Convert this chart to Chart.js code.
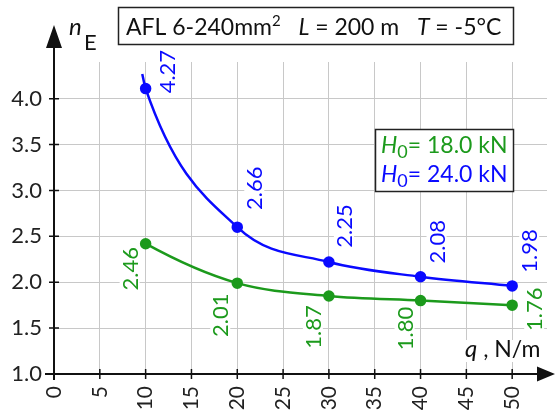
<!DOCTYPE html>
<html>
<head>
<meta charset="utf-8">
<script src="https://cdn.jsdelivr.net/npm/chart.js@4.4.1/dist/chart.umd.min.js"></script>
<style>
  html, body { margin: 0; padding: 0; background: #fff; }
</style>
</head>
<body>
<canvas id="chart" width="556" height="414"></canvas>
<script>
// values
const q = [10, 20, 30, 40, 50];
const nBlue = [4.11, 2.60, 2.22, 2.06, 1.96];
const nGreen = [2.42, 1.99, 1.85, 1.80, 1.75];
const blueLabels = ['4.27', '2.66', '2.25', '2.08', '1.98'];
const greenLabels = ['2.46', '2.01', '1.87', '1.80', '1.76'];
// the curves start a bit left of the first point
const qStartBlue = 9.63;
const qStartGreen = 9.7;
const blueStart = 4.27;
const greenStart = 2.44;
const xTicks = [0, 5, 10, 15, 20, 25, 30, 35, 40, 45, 50];
const yTicks = [1.0, 1.5, 2.0, 2.5, 3.0, 3.5, 4.0];

const FONT = 'Lato';
const BLUE = '#0a0aff';
const GREEN = '#1c9a1c';

// label placement next to each point (dx, dy of the rotated text centre)
const bluePos = [[21, -17], [17, -39], [15, -36], [16, -35], [17, -35]];
const greenPos = [[-16, 25], [-17, 32], [-16, 31], [-16, 28], [22, 4]];

function runs(ctx, x, y, parts) {
  parts.forEach(p => {
    ctx.font = (p.italic ? 'italic ' : '') + (p.size || 23) + 'px ' + FONT;
    ctx.fillStyle = p.color || '#111';
    ctx.fillText(p.t, x, y + (p.dy || 0));
    x += ctx.measureText(p.t).width;
  });
  return x;
}

const decor = {
  id: 'decor',
  afterDraw(chart) {
    const ctx = chart.ctx;
    const xs = chart.scales.x, ys = chart.scales.y;
    const x0 = xs.getPixelForValue(0), y0 = ys.getPixelForValue(1);
    ctx.save();

    // point labels
    [[1, blueLabels, bluePos, BLUE], [0, greenLabels, greenPos, GREEN]].forEach(([di, labels, pos, col]) => {
      const meta = chart.getDatasetMeta(di);
      labels.forEach((t, j) => {
        const el = meta.data[j + 1];
        ctx.save();
        ctx.translate(el.x + pos[j][0], el.y + pos[j][1]);
        ctx.rotate(-Math.PI / 2);
        ctx.font = '22px ' + FONT;
        const w = ctx.measureText(t).width;
        ctx.fillStyle = '#fff';
        ctx.fillRect(-w / 2 - 2, -10, w + 4, 20);
        ctx.fillStyle = col;
        ctx.textAlign = 'center';
        ctx.textBaseline = 'middle';
        ctx.fillText(t, 0, 1);
        ctx.restore();
      });
    });

    // axes with arrows
    ctx.strokeStyle = '#111';
    ctx.fillStyle = '#111';
    ctx.lineWidth = 2;
    ctx.beginPath();
    ctx.moveTo(x0 - 9, y0); ctx.lineTo(540, y0);
    ctx.moveTo(x0, y0 + 6); ctx.lineTo(x0, 44);
    ctx.stroke();
    ctx.beginPath();
    ctx.moveTo(555, y0); ctx.lineTo(537, y0 - 7.5); ctx.lineTo(537, y0 + 7.5); ctx.closePath();
    ctx.moveTo(x0, 25); ctx.lineTo(x0 - 8, 48); ctx.lineTo(x0 + 8, 48); ctx.closePath();
    ctx.fill();
    ctx.lineWidth = 1.5;
    ctx.beginPath();
    xTicks.forEach(v => {
      const px = xs.getPixelForValue(v);
      ctx.moveTo(px, y0 - 5); ctx.lineTo(px, y0 + 5);
    });
    yTicks.forEach(v => {
      const py = ys.getPixelForValue(v);
      ctx.moveTo(x0 - 5, py); ctx.lineTo(x0 + 5, py);
    });
    ctx.stroke();

    // axis titles
    ctx.textAlign = 'left';
    ctx.textBaseline = 'alphabetic';
    runs(ctx, 69, 35, [{ t: 'n', italic: true, size: 24 }]);
    runs(ctx, 84, 50, [{ t: 'E', size: 22 }]);
    ctx.fillStyle = '#fff';
    ctx.fillRect(462, 340, 88, 22);
    runs(ctx, 465, 357, [{ t: 'q', italic: true, size: 24 }, { t: ' , N/m' }]);

    // title box
    ctx.fillStyle = '#fff';
    ctx.fillRect(118.5, 7.5, 395, 37);
    ctx.strokeStyle = '#222';
    ctx.lineWidth = 1.5;
    ctx.strokeRect(118.5, 7.5, 395, 37);
    runs(ctx, 126, 35, [
      { t: 'AFL 6-240mm' },
      { t: '2', size: 15, dy: -9 },
      { t: '   ' },
      { t: 'L', italic: true },
      { t: ' = 200 m   ' },
      { t: 'T', italic: true },
      { t: ' = -5°C' }
    ]);

    // legend box
    ctx.fillStyle = '#fff';
    ctx.fillRect(375.5, 129.5, 138, 62);
    ctx.strokeRect(375.5, 129.5, 138, 62);
    runs(ctx, 381, 153, [
      { t: 'H', italic: true, color: GREEN },
      { t: '0', size: 18, dy: 5, color: GREEN },
      { t: '= 18.0 kN', color: GREEN }
    ]);
    runs(ctx, 381, 182, [
      { t: 'H', italic: true, color: BLUE },
      { t: '0', size: 18, dy: 5, color: BLUE },
      { t: '= 24.0 kN', color: BLUE }
    ]);
    ctx.restore();
  }
};

function series(qs, ns, q1, n1) {
  return [{ x: q1, y: n1 }].concat(qs.map((v, i) => ({ x: v, y: ns[i] })));
}

new Chart(document.getElementById('chart'), {
  type: 'line',
  data: {
    datasets: [
      {
        label: 'H0 = 18.0 kN',
        data: series(q, nGreen, qStartGreen, greenStart),
        borderColor: GREEN,
        backgroundColor: GREEN,
        borderWidth: 2.5,
        pointRadius: [0, 4.5, 4.5, 4.5, 4.5, 4.5],
        cubicInterpolationMode: 'monotone',
        fill: false
      },
      {
        label: 'H0 = 24.0 kN',
        data: series(q, nBlue, qStartBlue, blueStart),
        borderColor: BLUE,
        backgroundColor: BLUE,
        borderWidth: 2.5,
        pointRadius: [0, 4.5, 4.5, 4.5, 4.5, 4.5],
        cubicInterpolationMode: 'monotone',
        fill: false
      }
    ]
  },
  options: {
    responsive: false,
    devicePixelRatio: 1,
    animation: false,
    layout: { padding: { top: 62, right: 9, left: 0, bottom: 0 } },
    plugins: { legend: { display: false }, tooltip: { enabled: false } },
    scales: {
      x: {
        type: 'linear',
        min: 0,
        max: 53.8,
        afterBuildTicks: s => { s.ticks = xTicks.map(v => ({ value: v })); },
        afterFit: s => { s.height = 40; },
        ticks: {
          minRotation: 90,
          maxRotation: 90,
          padding: 12,
          color: '#222',
          font: { family: FONT, size: 21 },
          callback: v => v
        },
        grid: { color: '#c8c8c8', lineWidth: 1, drawTicks: false },
        border: { display: false }
      },
      y: {
        min: 1,
        max: 4.4,
        afterBuildTicks: s => { s.ticks = yTicks.map(v => ({ value: v })); },
        afterFit: s => { s.width = 54; },
        ticks: {
          padding: 12,
          color: '#222',
          font: { family: FONT, size: 22 },
          callback: v => v.toFixed(1)
        },
        grid: { color: '#c8c8c8', lineWidth: 1, drawTicks: false },
        border: { display: false }
      }
    }
  },
  plugins: [decor]
});
</script>
</body>
</html>
